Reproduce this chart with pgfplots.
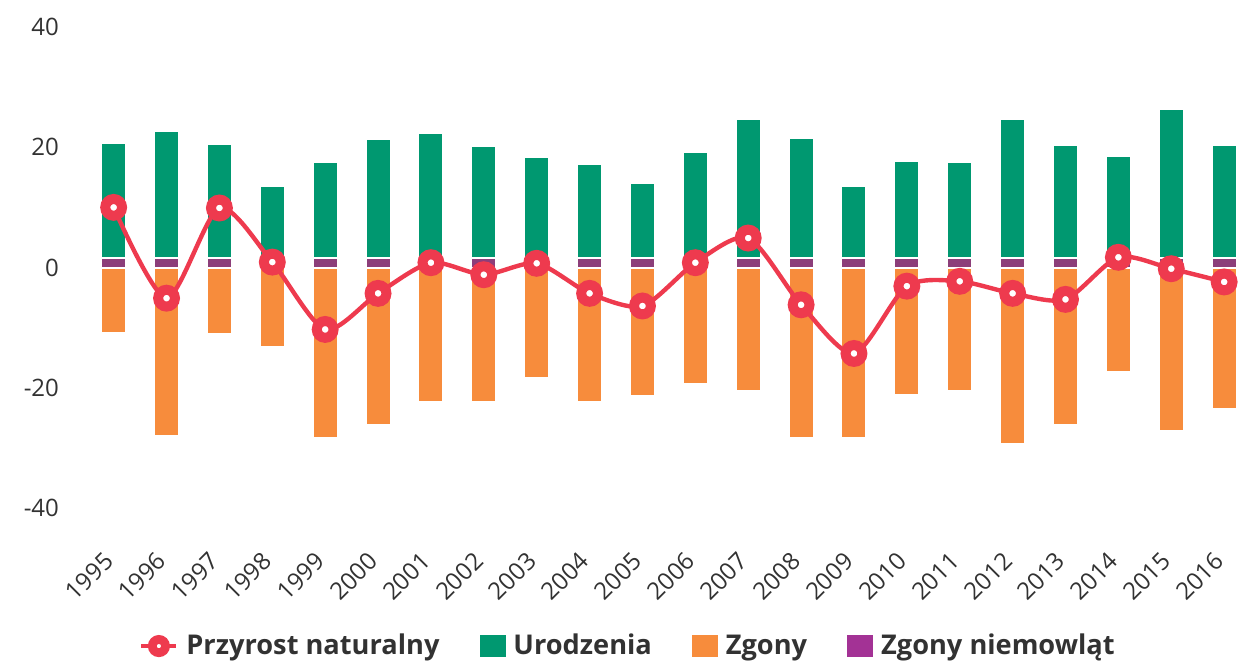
\documentclass[border=0pt]{standalone}
\usepackage{pgfplots}
\usepackage{pgfplotstable}
\pgfplotsset{compat=1.18}
\usepackage{fontspec}
\setmainfont{Open Sans}
\definecolor{urodz}{RGB}{0,152,112}
\definecolor{zgony}{RGB}{247,140,60}
\definecolor{niem}{RGB}{140,62,122}
\definecolor{przyrost}{RGB}{238,58,78}
\definecolor{txt}{RGB}{50,50,50}

\pgfplotsset{
  sqlegend/.style={legend image code/.code={\fill[##1] (0pt,-5.5pt) rectangle (13pt,5.5pt);}},
  ringlegend/.style={legend image code/.code={\draw[##1, mark repeat=2, mark phase=2] plot coordinates {(0pt,0pt) (8.75pt,0pt) (17.5pt,0pt)};}},
}

% idx: 0 = 1995 ... 21 = 2016
\pgfplotstableread{
idx births deaths infant natural
0  20.7 -10.9 1.6  10.0
1  22.7 -28.1 1.6  -5.1
2  20.5 -11.1 1.6   9.9
3  13.6 -13.3 1.6   0.9
4  17.5 -28.3 1.6 -10.3
5  21.4 -26.2 1.6  -4.3
6  22.3 -22.3 1.6   0.8
7  20.2 -22.3 1.6  -1.2
8  18.3 -18.4 1.6   0.7
9  17.2 -22.3 1.6  -4.3
10 14.0 -21.3 1.6  -6.4
11 19.2 -19.4 1.6   0.8
12 24.7 -20.5 1.6   4.9
13 21.6 -28.3 1.6  -6.2
14 13.6 -28.3 1.6 -14.3
15 17.7 -21.2 1.6  -3.1
16 17.6 -20.5 1.6  -2.3
17 24.7 -29.4 1.6  -4.3
18 20.3 -26.2 1.6  -5.3
19 18.5 -17.4 1.6   1.7
20 26.3 -27.2 1.6  -0.2
21 20.3 -23.5 1.6  -2.4
}\dane

\begin{document}
\begin{tikzpicture}
\begin{axis}[
    scale only axis,
    width=583pt, height=240.5pt,
    xmin=-0.75, xmax=21.3,
    ymin=-40, ymax=40,
    ytick={-40,-20,0,20,40},
    xtick={0,...,21},
    xticklabels={1995,1996,1997,1998,1999,2000,2001,2002,2003,2004,2005,2006,2007,2008,2009,2010,2011,2012,2013,2014,2015,2016},
    axis line style={draw=none},
    major tick style={draw=none},
    /pgf/number format/assume math mode=true,
    tick label style={font=\fontsize{12}{14}\selectfont, text=txt},
    yticklabel style={xshift=-4pt},
    xticklabel style={xshift=0pt, yshift=-22pt, rotate=45, anchor=east},
    legend style={at={(axis description cs:0.476,-0.287)}, anchor=center,
        draw=none, fill=none, legend columns=-1,
        font=\fontsize{13.6}{15}\selectfont\bfseries, text=txt,
        /tikz/every odd column/.append style={column sep=2pt},
        /tikz/every even column/.append style={column sep=18pt}},
]
% bars
\addplot[ybar, bar width=12.5pt, bar shift=0pt, fill=urodz, draw=white, line width=1pt, forget plot]
    table[x=idx, y=births] {\dane};
\addplot[ybar, bar width=12.5pt, bar shift=0pt, fill=niem, draw=white, line width=1pt, forget plot]
    table[x=idx, y=infant] {\dane};
\addplot[ybar, bar width=12.5pt, bar shift=0pt, fill=zgony, draw=white, line width=1pt, forget plot]
    table[x=idx, y=deaths] {\dane};
% natural increase
\addplot[smooth, tension=0.45, color=przyrost, line width=2.2pt,
    mark=*, mark size=4.2pt, mark options={fill=white, draw=przyrost, line width=5pt}, forget plot]
    table[x=idx, y=natural] {\dane};

\addlegendimage{ringlegend, color=przyrost, line width=2pt, mark=*, mark size=3.3pt,
    mark options={fill=white, draw=przyrost, line width=4.4pt}}
\addlegendentry{Przyrost naturalny}
\addlegendimage{sqlegend, fill=urodz, draw=none}
\addlegendentry{Urodzenia}
\addlegendimage{sqlegend, fill=zgony, draw=none}
\addlegendentry{Zgony}
\addlegendimage{sqlegend, fill=niem!80!magenta, draw=none}
\addlegendentry{Zgony niemowląt}
\end{axis}
\pgfresetboundingbox
\path[use as bounding box] (-37pt,-78pt) rectangle (583pt,254pt);
\end{tikzpicture}
\end{document}
